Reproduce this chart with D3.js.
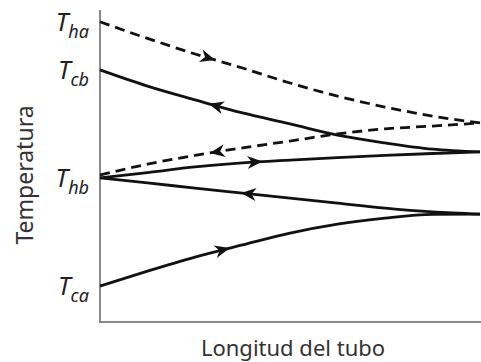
<!DOCTYPE html>
<html>
<head>
<meta charset="utf-8">
<script src="https://cdn.jsdelivr.net/npm/d3@7"></script>
<style>
  html, body { margin: 0; padding: 0; background: #fff; }
  svg { display: block; }
</style>
</head>
<body>
<div id="chart"></div>
<script>
// position along the tube (fraction of length)
const pos = [0, 0.125, 0.25, 0.375, 0.5, 0.625, 0.75, 0.875, 1];

// temperature profiles (arbitrary units)
const hotPass1 = [96.2, 90.9, 85.9, 81.4, 76.6, 72.4, 68.9, 66.0, 63.8];
const coldPass2 = [80.8, 75.6, 71.2, 67.0, 63.5, 59.9, 57.4, 55.4, 54.5];
const hotPass2 = [47.1, 50.6, 53.4, 55.8, 58.0, 60.3, 61.9, 62.8, 63.8];
const coldPass1 = [46.2, 47.9, 49.7, 51.0, 51.9, 52.7, 53.4, 54.0, 54.5];
const coldPass3 = [46.2, 44.6, 42.9, 41.3, 39.7, 38.1, 36.5, 35.3, 34.6];
const coldIn = [11.5, 16.3, 20.8, 24.7, 28.5, 31.4, 33.3, 34.5, 34.6];

const series = [
  { vals: hotPass1, dashed: true, arrow: 0.29, dir: 1 },
  { vals: coldPass2, dashed: false, arrow: 0.31, dir: -1 },
  { vals: hotPass2, dashed: true, arrow: 0.31, dir: -1 },
  { vals: coldPass1, dashed: false, arrow: 0.41, dir: 1 },
  { vals: coldPass3, dashed: false, arrow: 0.39, dir: -1 },
  { vals: coldIn, dashed: false, arrow: 0.33, dir: 1 }
];

// labels on the temperature axis
const tLabels = [
  { sub: "ha", v: 96.2 },
  { sub: "cb", v: 80.8 },
  { sub: "hb", v: 46.2 },
  { sub: "ca", v: 11.5 }
];

const width = 481, height = 362;
const margin = { top: 10, right: 1, bottom: 40, left: 100 };

const svg = d3.select("#chart").append("svg")
  .attr("width", width)
  .attr("height", height);

const x = d3.scaleLinear().domain([0, 1]).range([margin.left, width - margin.right]);
const y = d3.scaleLinear().domain([0, 100]).range([height - margin.bottom, margin.top]);

const line = d3.line()
  .x((d, i) => x(pos[i]))
  .y(d => y(d))
  .curve(d3.curveMonotoneX);

// --- Axes (plain lines, no ticks) ---
svg.append("path")
  .attr("d", `M${x(0)},${y(100)} V${y(0)} H${x(1) + 1}`)
  .attr("fill", "none")
  .attr("stroke", "#8a8a8a")
  .attr("stroke-width", 2);

// --- Curves ---
series.forEach(s => {
  const p = svg.append("path")
    .attr("d", line(s.vals))
    .attr("fill", "none")
    .attr("stroke", "#111")
    .attr("stroke-width", 2.8)
    .attr("stroke-dasharray", s.dashed ? "10,6" : null);

  // arrowhead along the curve
  const node = p.node();
  const L = node.getTotalLength();
  const a = node.getPointAtLength(L * s.arrow);
  const b = node.getPointAtLength(L * s.arrow + 1);
  let ang = Math.atan2(b.y - a.y, b.x - a.x) * 180 / Math.PI;
  if (s.dir < 0) ang += 180;
  svg.append("path")
    .attr("d", "M7,0 L-8,-6.5 L-3.5,0 L-8,6.5 Z")
    .attr("fill", "#111")
    .attr("transform", `translate(${a.x},${a.y}) rotate(${ang})`);
});

// --- T labels ---
tLabels.forEach(t => {
  const txt = svg.append("text")
    .attr("x", 89)
    .attr("y", y(t.v) + 9)
    .attr("text-anchor", "end")
    .attr("fill", "#222")
    .style("font-family", "Noto Sans")
    .style("font-style", "italic");
  txt.append("tspan").style("font-size", "25px").text("T");
  txt.append("tspan").style("font-size", "18px").attr("dy", 7).text(t.sub);
});

// --- Axis titles ---
svg.append("text")
  .attr("transform", `translate(33,175) rotate(-90)`)
  .attr("text-anchor", "middle")
  .attr("fill", "#333")
  .style("font-family", "Noto Sans")
  .style("font-size", "23px")
  .text("Temperatura");

svg.append("text")
  .attr("x", 293)
  .attr("y", 356)
  .attr("text-anchor", "middle")
  .attr("fill", "#333")
  .style("font-family", "Noto Sans")
  .style("font-size", "22px")
  .text("Longitud del tubo");
</script>
</body>
</html>
